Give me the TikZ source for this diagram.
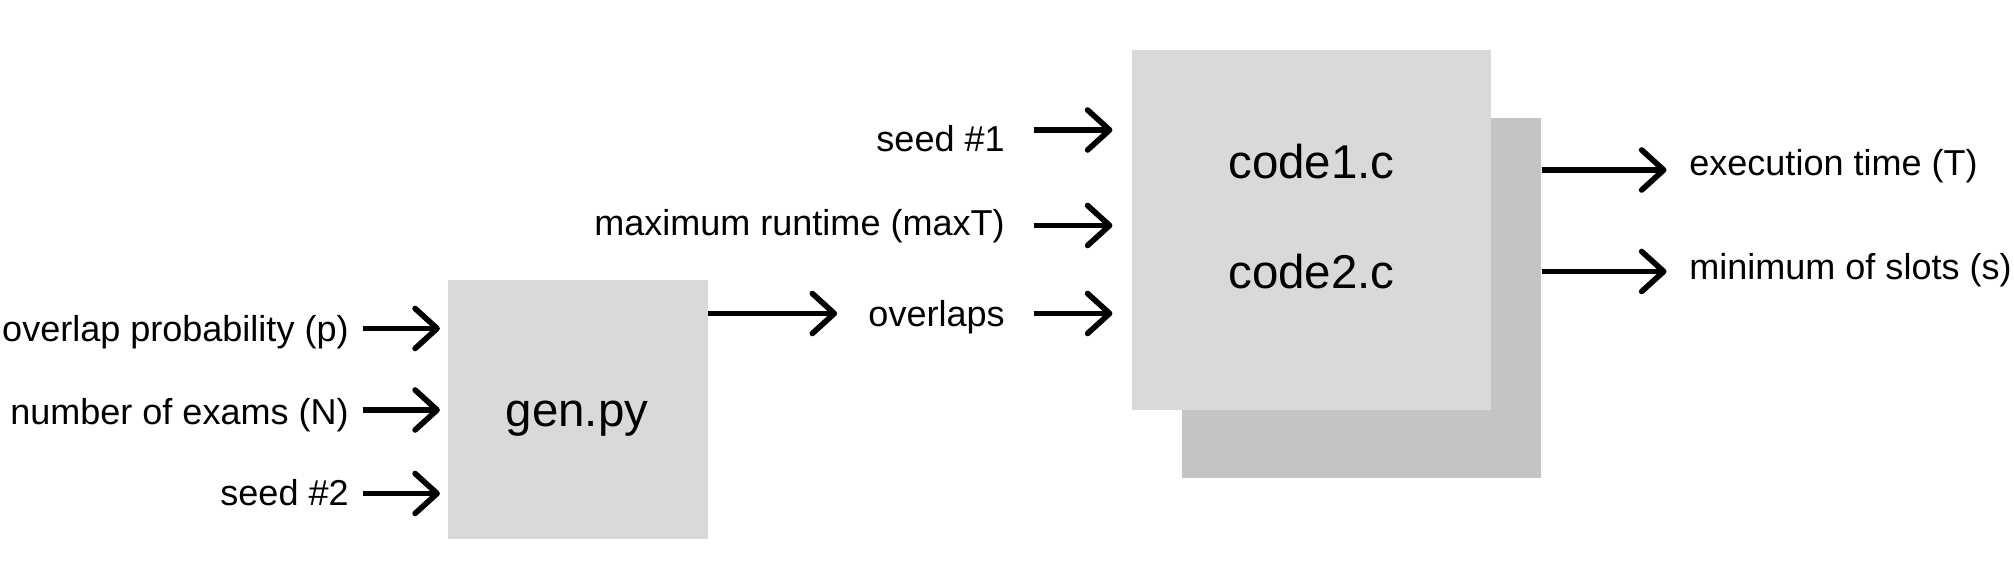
\documentclass[tikz,border=0pt]{standalone}
\usepackage{fontspec}
\setmainfont{Liberation Sans}
\usetikzlibrary{positioning,calc,arrows.meta}
\definecolor{BoxGray}{RGB}{217,217,217}
\definecolor{BackGray}{RGB}{196,196,196}
\tikzset{
  box/.style={fill=BoxGray,inner sep=0pt},
  boxtext/.style={inner sep=0pt,font=\fontsize{27}{32}\selectfont},
  lab/.style={inner sep=0pt,font=\fontsize{20.5}{24}\selectfont},
  arr/.style={draw=black,line width=3.2pt,-{Straight Barb[length=4.4mm,width=8mm,round]}},
}
\begin{document}
\begin{tikzpicture}
\useasboundingbox (0,0) rectangle (40.28,11.76);
% boxes
\node[box,fill=BackGray,minimum size=7.19cm] (back) at (27.23,5.80) {};
\node[box,minimum size=7.19cm] (front) at (26.23,7.16) {};
\node[box,minimum size=5.19cm] (gen) at (11.56,3.57) {};
\node[boxtext,anchor=base] (gent) at (11.54,3.22) {gen.py};
\node[boxtext,anchor=base] (c1) at (26.23,8.19) {code1.c};
\node[boxtext,anchor=base] (c2) at (26.23,5.98) {code2.c};
% inputs of gen.py
\foreach \n/\y/\b/\t in {p/5.19/4.92/overlap probability (p),N/3.56/3.27/number of exams (N),s2/1.89/1.64/seed \#2}{
  \coordinate (\n-a) at (7.25,\y);
  \node[lab,anchor=base east] (\n) at (6.98,\b) {\t};
  \draw[arr,shorten >=0.16cm] (\n-a) -- (\n-a -| gen.west);
}
% inputs of code1.c / code2.c
\foreach \n/\y/\b/\t in {s1/9.16/8.73/seed \#1,mt/7.25/7.05/maximum runtime (maxT),ov/5.49/5.23/overlaps}{
  \coordinate (\n-a) at (20.67,\y);
  \node[lab,anchor=base east] (\n) at (20.10,\b) {\t};
  \draw[arr,shorten >=0.38cm] (\n-a) -- (\n-a -| front.west);
}
\draw[arr,shorten >=0.62cm] (gen.east |- ov-a) -- (ov.west |- ov-a);
% outputs
\foreach \n/\y/\b/\t in {T/8.36/8.24/execution time (T),ms/6.33/6.16/minimum of slots (s)}{
  \coordinate (\n-a) at (33.33,\y);
  \node[lab,anchor=base west] (\n) at (33.78,\b) {\t};
  \draw[arr] (\n-a -| back.east) -- (\n-a);
}
\end{tikzpicture}
\end{document}
